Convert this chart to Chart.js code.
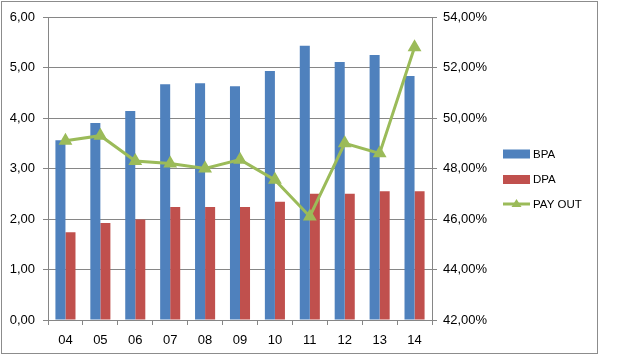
<!DOCTYPE html>
<html>
<head>
<meta charset="utf-8">
<script src="https://cdn.jsdelivr.net/npm/chart.js@4.4.1/dist/chart.umd.min.js"></script>
<style>
  html, body { margin: 0; padding: 0; background: #fff; }
  #wrap { position: relative; width: 640px; height: 360px; }
  #frame { position: absolute; left: 1px; top: 1px; width: 597px; height: 353px; border: 1px solid #8c8c8c; box-sizing: border-box; pointer-events: none; }
  canvas { position: absolute; left: 0; top: 0; }
</style>
</head>
<body>
<div id="wrap">
  <canvas id="c" width="640" height="360"></canvas>
  <div id="frame"></div>
</div>
<script>
const categories = ['04', '05', '06', '07', '08', '09', '10', '11', '12', '13', '14'];
const bpa = [3.56, 3.90, 4.14, 4.67, 4.69, 4.63, 4.93, 5.43, 5.11, 5.25, 4.83];
const dpa = [1.74, 1.92, 1.99, 2.24, 2.24, 2.24, 2.34, 2.50, 2.50, 2.55, 2.55];
const payout = [49.1, 49.3, 48.3, 48.2, 48.0, 48.35, 47.55, 46.1, 49.0, 48.6, 52.8];
const seriesNames = ['BPA', 'DPA', 'PAY OUT'];

const BLUE = '#4F81BD', RED = '#C0504D', GREEN = '#9BBB59', GRID = '#868686';
const FONT = 'Liberation Sans';

const legendPlugin = {
  id: 'customLegend',
  afterDraw(chart) {
    const ctx = chart.ctx;
    const x0 = 503, boxW = 27, boxH = 9, tx = 533;
    const ys = [154, 179.5, 204];
    ctx.save();
    ctx.font = '11.5px "' + FONT + '"';
    ctx.textBaseline = 'middle';
    ctx.textAlign = 'left';
    chart.data.datasets.forEach((ds, i) => {
      const y = ys[i];
      if (ds.type === 'line') {
        ctx.strokeStyle = ds.borderColor;
        ctx.lineWidth = 3;
        ctx.beginPath();
        ctx.moveTo(x0, y);
        ctx.lineTo(x0 + boxW, y);
        ctx.stroke();
        ctx.fillStyle = ds.borderColor;
        ctx.beginPath();
        ctx.moveTo(x0 + boxW / 2, y - 5);
        ctx.lineTo(x0 + boxW / 2 + 5, y + 3);
        ctx.lineTo(x0 + boxW / 2 - 5, y + 3);
        ctx.closePath();
        ctx.fill();
      } else {
        ctx.fillStyle = ds.backgroundColor;
        ctx.fillRect(x0, y - boxH / 2, boxW, boxH);
      }
      ctx.fillStyle = '#000';
      ctx.fillText(ds.label, tx, y + 0.5);
    });
    ctx.restore();
  }
};

const fmt = (v, suffix) => v.toFixed(2).replace('.', ',') + suffix;

new Chart(document.getElementById('c'), {
  type: 'bar',
  data: {
    labels: categories,
    datasets: [
      { type: 'bar', label: seriesNames[0], data: bpa, backgroundColor: BLUE, yAxisID: 'y', order: 1,
        barPercentage: 1.0, categoryPercentage: 0.575 },
      { type: 'bar', label: seriesNames[1], data: dpa, backgroundColor: RED, yAxisID: 'y', order: 1,
        barPercentage: 1.0, categoryPercentage: 0.575 },
      { type: 'line', label: seriesNames[2], data: payout, borderColor: GREEN, backgroundColor: GREEN,
        borderWidth: 3, pointStyle: 'triangle', pointRadius: 5, pointBackgroundColor: GREEN,
        pointBorderColor: GREEN, tension: 0, yAxisID: 'y1', order: 0 }
    ]
  },
  options: {
    responsive: false,
    animation: false,
    layout: { padding: { top: 17, left: 0, right: 0, bottom: 0 } },
    plugins: { legend: { display: false }, tooltip: { enabled: false } },
    scales: {
      x: {
        offset: true,
        grid: { drawOnChartArea: false, drawTicks: true, tickLength: 5, color: GRID, offset: true },
        border: { display: true, color: GRID },
        ticks: { color: '#000', font: { family: FONT, size: 13 }, padding: 8, maxRotation: 0 },
        afterFit(s) { s.height = 40; }
      },
      y: {
        position: 'left',
        min: 0, max: 6,
        ticks: { stepSize: 1, color: '#000', font: { family: FONT, size: 13 }, padding: 8,
          callback: v => fmt(v, '') },
        grid: { color: GRID, tickLength: 5 },
        border: { display: true, color: GRID },
        afterFit(s) { s.width = 48; }
      },
      y1: {
        position: 'right',
        min: 42, max: 54,
        ticks: { stepSize: 2, color: '#000', font: { family: FONT, size: 13 }, padding: 6,
          callback: v => fmt(v, '%') },
        grid: { drawOnChartArea: false, tickLength: 5, color: GRID },
        border: { display: true, color: GRID },
        afterFit(s) { s.width = 208; }
      }
    }
  },
  plugins: [legendPlugin]
});
</script>
</body>
</html>
